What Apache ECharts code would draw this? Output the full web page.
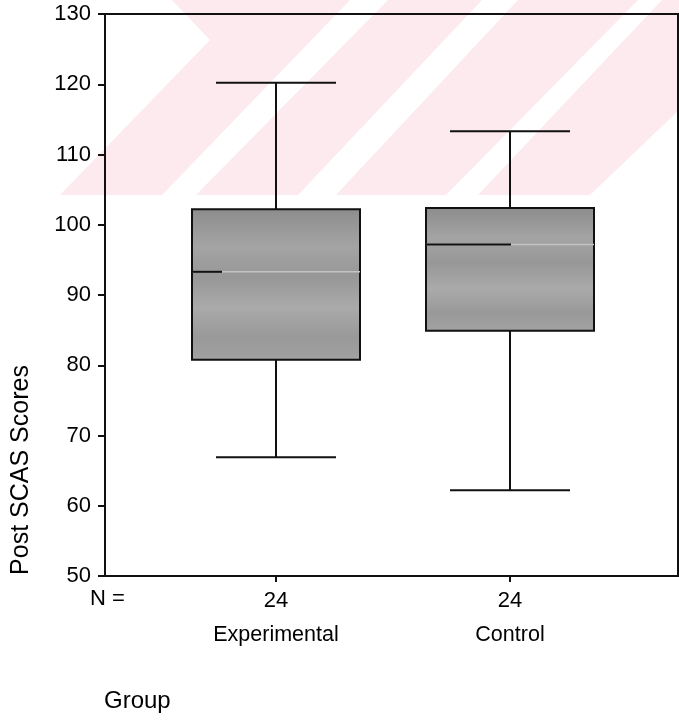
<!DOCTYPE html>
<html>
<head>
<meta charset="utf-8">
<script src="https://cdn.jsdelivr.net/npm/echarts@6/dist/echarts.min.js"></script>
<style>
html,body{margin:0;padding:0;background:#fff;}
#chart{width:679px;height:720px;}
</style>
</head>
<body>
<div id="chart"></div>
<script>
// ---- data ----
const categories = ['Experimental', 'Control'];
const nCounts = [24, 24];
const whiskerLow = [66.9, 62.2];
const q1 = [80.8, 84.9];
const medians = [93.3, 97.2];
const q3 = [102.2, 102.4];
const whiskerHigh = [120.2, 113.3];
const yMin = 50, yMax = 130, yStep = 10;

const boxData = categories.map((c, i) => [i, whiskerLow[i], q1[i], medians[i], q3[i], whiskerHigh[i]]);

const FONT = '"Liberation Sans", Arial, sans-serif';
const PINK = '#fdeaee';

function renderBox(params, api) {
  const i = api.value(0);
  const pLow = api.coord([i, api.value(1)]);
  const pQ1 = api.coord([i, api.value(2)]);
  const pMed = api.coord([i, api.value(3)]);
  const pQ3 = api.coord([i, api.value(4)]);
  const pHigh = api.coord([i, api.value(5)]);
  const cx = pLow[0];
  const hw = 84, cw = 60;
  const blk = {stroke: '#111', lineWidth: 2};
  return {
    type: 'group',
    children: [
      {type: 'line', shape: {x1: cx, y1: pHigh[1], x2: cx, y2: pQ3[1]}, style: blk},
      {type: 'line', shape: {x1: cx, y1: pQ1[1], x2: cx, y2: pLow[1]}, style: blk},
      {type: 'line', shape: {x1: cx - cw, y1: pHigh[1], x2: cx + cw, y2: pHigh[1]}, style: blk},
      {type: 'line', shape: {x1: cx - cw, y1: pLow[1], x2: cx + cw, y2: pLow[1]}, style: blk},
      {type: 'rect', shape: {x: cx - hw, y: pQ3[1], width: 2 * hw, height: pQ1[1] - pQ3[1]},
        style: {fill: {type: 'linear', x: 0, y: 0, x2: 0, y2: 1, colorStops: [
          {offset: 0, color: '#8c8c8c'}, {offset: 0.25, color: '#a4a4a4'}, {offset: 0.45, color: '#979797'},
          {offset: 0.65, color: '#aaaaaa'}, {offset: 0.85, color: '#999999'}, {offset: 1, color: '#a2a2a2'}]},
          stroke: '#111', lineWidth: 2}},
      {type: 'line', shape: {x1: cx - hw, y1: pMed[1], x2: cx + hw, y2: pMed[1]}, style: {stroke: '#c4c4c4', lineWidth: 1.5}},
      {type: 'line', shape: {x1: cx - hw, y1: pMed[1], x2: cx - hw + (i === 0 ? 30 : 85), y2: pMed[1]}, style: {stroke: '#111', lineWidth: 2}}
    ]
  };
}

const chart = echarts.init(document.getElementById('chart'), null, {renderer: 'canvas'});
chart.setOption({
  animation: false,
  backgroundColor: '#fff',
  graphic: [
    {type: 'polygon', z: -10, shape: {points: [[172,0],[350,0],[162,195],[60,195],[210,40]]}, style: {fill: PINK}},
    {type: 'polygon', z: -10, shape: {points: [[388,0],[482,0],[298,195],[196,195]]}, style: {fill: PINK}},
    {type: 'polygon', z: -10, shape: {points: [[518,0],[638,0],[446,195],[336,195]]}, style: {fill: PINK}},
    {type: 'polygon', z: -10, shape: {points: [[662,0],[679,0],[679,110],[590,195],[478,195]]}, style: {fill: PINK}},
    {type: 'text', left: 90, top: 588, style: {text: 'N =', font: '22px ' + FONT, fill: '#000'}},
    {type: 'text', left: 104, top: 689, style: {text: 'Group', font: '24px ' + FONT, fill: '#000'}},
    {type: 'text', x: 21, y: 470, rotation: Math.PI / 2,
      style: {text: 'Post SCAS Scores', font: '25px ' + FONT, fill: '#000', textAlign: 'center', textVerticalAlign: 'middle'}}
  ],
  grid: [
    {left: 105, right: 1, top: 14, bottom: 144, show: true, borderColor: '#111', borderWidth: 2, backgroundColor: 'transparent'},
    {left: 159, right: 52, top: 14, bottom: 144}
  ],
  xAxis: [
    {type: 'value', gridIndex: 0, min: 0, max: 1, axisLine: {show: true, lineStyle: {color: '#111', width: 2}},
      axisTick: {show: false}, axisLabel: {show: false}, splitLine: {show: false}},
    {type: 'category', gridIndex: 1, data: categories, axisLine: {show: false},
      axisTick: {show: true, alignWithLabel: true, length: 6, lineStyle: {color: '#111', width: 2}},
      axisLabel: {margin: 8, color: '#000', fontFamily: FONT,
        formatter: (v, idx) => '{n|' + nCounts[idx] + '}\n{c|' + v + '}',
        rich: {n: {fontSize: 22, lineHeight: 34, fontFamily: FONT, color: '#000'},
               c: {fontSize: 21.5, lineHeight: 34, fontFamily: FONT, color: '#000'}}},
      splitLine: {show: false}}
  ],
  yAxis: [
    {type: 'value', gridIndex: 0, min: yMin, max: yMax, interval: yStep,
      axisLine: {show: true, lineStyle: {color: '#111', width: 2}},
      axisTick: {show: true, length: 7, lineStyle: {color: '#111', width: 2}},
      axisLabel: {margin: 14, fontSize: 22, color: '#000', fontFamily: FONT},
      splitLine: {show: false}},
    {type: 'value', gridIndex: 1, min: yMin, max: yMax, interval: yStep, show: false, splitLine: {show: false}}
  ],
  series: [
    {type: 'custom', xAxisIndex: 1, yAxisIndex: 1, renderItem: renderBox, data: boxData, z: 5}
  ]
});
</script>
</body>
</html>
